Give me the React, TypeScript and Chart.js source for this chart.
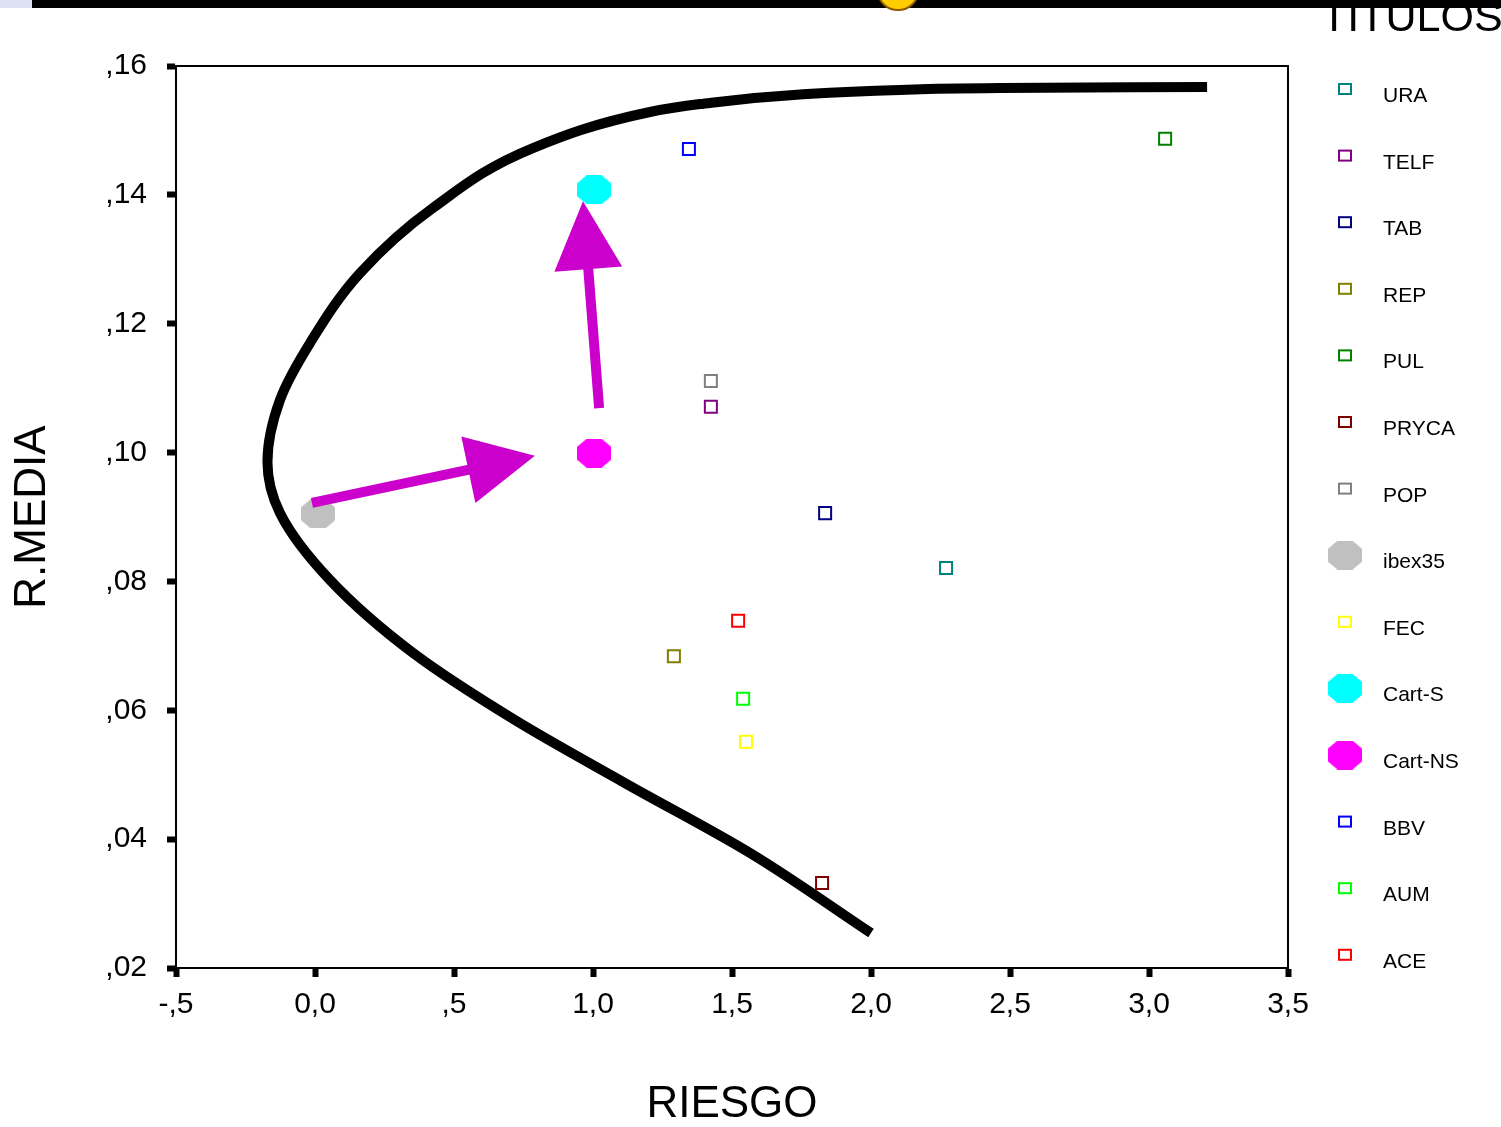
import React, { useEffect, useRef } from "react";
import { Chart, registerables } from "chart.js";

Chart.register(...registerables);

// ---------- data ----------
const xTicks = [-0.5, 0, 0.5, 1, 1.5, 2, 2.5, 3, 3.5];
const yTicks = [0.02, 0.04, 0.06, 0.08, 0.1, 0.12, 0.14, 0.16];

const frontierRiesgo = [
  3.209, 2.464, 2.104, 1.745, 1.385, 1.205, 0.784, 0.424, 0.162, -0.018, -0.126, -0.171, -0.126, 0.054, 0.353,
  0.719, 1.115, 1.565, 2.0,
];
const frontierMedia = [
  0.15674, 0.15658, 0.15627, 0.15557, 0.15409, 0.15286, 0.14727, 0.13796, 0.12787, 0.117, 0.10816, 0.09853,
  0.09062, 0.08022, 0.06889, 0.05849, 0.04871, 0.03785, 0.02543,
];

const titulos = ["URA", "TELF", "TAB", "REP", "PUL", "PRYCA", "POP", "ibex35", "FEC", "Cart-S", "Cart-NS", "BBV", "AUM", "ACE"];
const riesgo = [2.27, 1.424, 1.835, 1.291, 3.058, 1.824, 1.424, 0.011, 1.55, 1.004, 1.004, 1.345, 1.54, 1.522];
const rMedia = [0.0821, 0.1071, 0.0906, 0.0684, 0.1487, 0.0332, 0.1111, 0.0905, 0.0551, 0.1408, 0.0999, 0.1471, 0.0618, 0.0739];
const colores = [
  "#008080", "#800080", "#000080", "#808000", "#008000", "#800000", "#808080",
  "#c0c0c0", "#ffff00", "#00ffff", "#ff00ff", "#0000ff", "#00ff00", "#ff0000",
];
const marcadores = [
  "square", "square", "square", "square", "square", "square", "square",
  "octagon", "square", "octagon", "octagon", "square", "square", "square",
];

// arrows (data units): tail -> head
const arrowTailX = [-0.011, 1.022];
const arrowTailY = [0.0922, 0.1069];
const arrowHeadX = [0.791, 0.964];
const arrowHeadY = [0.0995, 0.139];

const FONT = "'Liberation Sans', Arial, sans-serif";

function fmt(v: number, d: number): string {
  const a = Math.abs(v);
  let s = a.toFixed(d).replace(".", ",");
  if (a > 1e-9 && s.startsWith("0,")) s = s.slice(1);
  return (v < -1e-9 ? "-" : "") + s;
}

function makeOctagon(color: string, w = 34, h = 29): HTMLCanvasElement {
  const c = document.createElement("canvas");
  c.width = w;
  c.height = h;
  const g = c.getContext("2d")!;
  const cx = w * 0.28;
  const cy = h * 0.28;
  g.fillStyle = color;
  g.beginPath();
  g.moveTo(cx, 0);
  g.lineTo(w - cx, 0);
  g.lineTo(w, cy);
  g.lineTo(w, h - cy);
  g.lineTo(w - cx, h);
  g.lineTo(cx, h);
  g.lineTo(0, h - cy);
  g.lineTo(0, cy);
  g.closePath();
  g.fill();
  return c;
}

export default function App() {
  const ref = useRef<HTMLCanvasElement | null>(null);

  useEffect(() => {
    document.body.style.margin = "0";
    const canvas = ref.current!;
    const octs: Record<number, HTMLCanvasElement> = {};
    titulos.forEach((_, i) => {
      if (marcadores[i] === "octagon") octs[i] = makeOctagon(colores[i]);
    });

    const pointDatasets = titulos.map((t, i) => ({
      label: t,
      data: [{ x: riesgo[i], y: rMedia[i] }],
      pointStyle: marcadores[i] === "octagon" ? (octs[i] as any) : "rect",
      pointRadius: marcadores[i] === "octagon" ? 16 : 8.5,
      borderColor: colores[i],
      backgroundColor: "rgba(255,255,255,0)",
      borderWidth: 2,
      showLine: false,
      order: 0,
    }));

    const frontier = {
      label: "frontera",
      data: frontierRiesgo.map((x, i) => ({ x, y: frontierMedia[i] })),
      showLine: true,
      indexAxis: "y",
      cubicInterpolationMode: "monotone",
      borderColor: "#000",
      borderWidth: 10,
      pointRadius: 0,
      order: 100,
    };

    const framePlugin = {
      id: "frame",
      beforeDatasetsDraw(chart: any) {
        const { ctx, chartArea: a } = chart;
        ctx.save();
        ctx.strokeStyle = "#000";
        ctx.lineWidth = 2;
        ctx.strokeRect(a.left, a.top, a.right - a.left, a.bottom - a.top);
        ctx.restore();
      },
    };

    const arrowPlugin = {
      id: "arrows",
      afterDatasetsDraw(chart: any) {
        const { ctx } = chart;
        const xs = chart.scales.x;
        const ys = chart.scales.y;
        ctx.save();
        ctx.fillStyle = "#cc00cc";
        ctx.strokeStyle = "#cc00cc";
        for (let i = 0; i < arrowTailX.length; i++) {
          const x0 = xs.getPixelForValue(arrowTailX[i]);
          const y0 = ys.getPixelForValue(arrowTailY[i]);
          const x1 = xs.getPixelForValue(arrowHeadX[i]);
          const y1 = ys.getPixelForValue(arrowHeadY[i]);
          const dx = x1 - x0;
          const dy = y1 - y0;
          const len = Math.hypot(dx, dy);
          const ux = dx / len;
          const uy = dy / len;
          const headLen = 68;
          const headHalf = 34;
          const bx = x1 - ux * headLen;
          const by = y1 - uy * headLen;
          ctx.lineWidth = 10;
          ctx.lineCap = "butt";
          ctx.beginPath();
          ctx.moveTo(x0, y0);
          ctx.lineTo(bx + ux * 2, by + uy * 2);
          ctx.stroke();
          ctx.beginPath();
          ctx.moveTo(x1, y1);
          ctx.lineTo(bx - uy * headHalf, by + ux * headHalf);
          ctx.lineTo(bx + uy * headHalf, by - ux * headHalf);
          ctx.closePath();
          ctx.fill();
        }
        ctx.restore();
      },
    };

    const legendPlugin = {
      id: "titulosLegend",
      afterDraw(chart: any) {
        const { ctx } = chart;
        ctx.save();
        ctx.fillStyle = "#000";
        ctx.textBaseline = "alphabetic";
        ctx.textAlign = "left";
        ctx.font = `43px ${FONT}`;
        ctx.fillText("TITULOS", 1321, 31);
        const ds = chart.data.datasets.filter((d: any) => d.label !== "frontera");
        ds.forEach((d: any, i: number) => {
          const cy = 89 + i * 66.6;
          const cx = 1345;
          if (typeof d.pointStyle !== "string") {
            const img = d.pointStyle as HTMLCanvasElement;
            ctx.drawImage(img, cx - img.width / 2, cy - img.height / 2);
          } else {
            ctx.strokeStyle = d.borderColor;
            ctx.lineWidth = 2;
            ctx.strokeRect(cx - 6, cy - 5, 12, 10);
          }
          ctx.fillStyle = "#000";
          ctx.font = `21px ${FONT}`;
          ctx.fillText(d.label, 1383, cy + 13);
        });
        // slide decoration strip at the very top
        ctx.fillStyle = "#dde1f3";
        ctx.fillRect(0, 0, 32, 8);
        ctx.fillStyle = "#000";
        ctx.fillRect(32, 0, 1469, 8);
        ctx.beginPath();
        ctx.ellipse(898, -9, 20, 19, 0, 0, Math.PI * 2);
        ctx.fillStyle = "#ffcc00";
        ctx.fill();
        ctx.lineWidth = 2;
        ctx.strokeStyle = "#8a5a00";
        ctx.stroke();
        ctx.restore();
      },
    };

    const chart = new Chart(canvas, {
      type: "scatter",
      data: { datasets: [frontier as any, ...pointDatasets] },
      options: {
        responsive: false,
        animation: false,
        devicePixelRatio: 1,
        layout: { padding: { top: 66, right: 213, bottom: 0, left: 0 } },
        plugins: { legend: { display: false }, tooltip: { enabled: false } },
        scales: {
          x: {
            type: "linear",
            min: -0.5,
            max: 3.5,
            afterBuildTicks: (s: any) => {
              s.ticks = xTicks.map((v) => ({ value: v }));
            },
            afterFit: (s: any) => {
              s.height = 1127 - 968;
            },
            grid: {
              display: true,
              drawOnChartArea: false,
              drawTicks: true,
              tickLength: 9,
              tickWidth: 6,
              tickColor: "#000",
            },
            border: { display: true, color: "#000", width: 2 },
            ticks: {
              color: "#000",
              padding: 10,
              maxRotation: 0,
              autoSkip: false,
              font: { family: FONT, size: 30 },
              callback: (v: any) => fmt(Number(v), 1),
            },
            title: {
              display: true,
              text: "RIESGO",
              color: "#000",
              font: { family: FONT, size: 44, lineHeight: 1 },
              padding: { top: 0, bottom: 0 },
            },
          },
          y: {
            type: "linear",
            min: 0.02,
            max: 0.16,
            afterBuildTicks: (s: any) => {
              s.ticks = yTicks.map((v) => ({ value: v }));
            },
            afterFit: (s: any) => {
              s.width = 176;
            },
            grid: {
              display: true,
              drawOnChartArea: false,
              drawTicks: true,
              tickLength: 9,
              tickWidth: 6,
              tickColor: "#000",
            },
            border: { display: true, color: "#000", width: 2 },
            ticks: {
              color: "#000",
              padding: 20,
              autoSkip: false,
              font: { family: FONT, size: 30 },
              callback: (v: any) => fmt(Number(v), 2),
            },
            title: {
              display: true,
              text: "R.MEDIA",
              color: "#000",
              font: { family: FONT, size: 44, lineHeight: 1 },
              padding: { top: 11, bottom: 0 },
            },
          },
        },
      },
      plugins: [framePlugin, arrowPlugin, legendPlugin],
    });

    return () => chart.destroy();
  }, []);

  return (
    <div style={{ position: "absolute", left: 0, top: 0, width: 1501, height: 1127, background: "#fff" }}>
      <canvas ref={ref} width={1501} height={1127} style={{ display: "block", width: 1501, height: 1127 }} />
    </div>
  );
}
